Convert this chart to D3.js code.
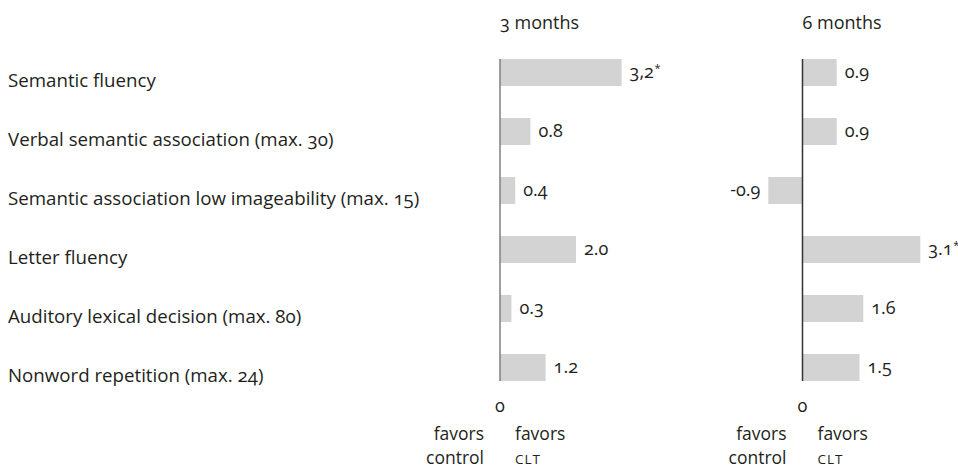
<!DOCTYPE html>
<html>
<head>
<meta charset="utf-8">
<script src="https://cdn.jsdelivr.net/npm/d3@7"></script>
<style>
  html, body { margin: 0; padding: 0; background: #fff; }
  svg { display: block; font-family: "Open Sans", sans-serif; font-variant-numeric: oldstyle-nums; fill: #231f20; }
</style>
</head>
<body>
<svg id="chart" width="958" height="468"></svg>
<script>
// Outcome measures (rows)
const categories = [
  "Semantic fluency",
  "Verbal semantic association (max. 30)",
  "Semantic association low imageability (max. 15)",
  "Letter fluency",
  "Auditory lexical decision (max. 80)",
  "Nonword repetition (max. 24)"
];

// Mean differences after 3 and 6 months
const values3 = [3.2, 0.8, 0.4, 2.0, 0.3, 1.2];
const values6 = [0.9, 0.9, -0.9, 3.1, 1.6, 1.5];

// Printed value labels ("*" marks significance)
const labels3 = ["3,2", "0.8", "0.4", "2.0", "0.3", "1.2"];
const stars3  = [true, false, false, false, false, false];
const labels6 = ["0.9", "0.9", "-0.9", "3.1", "1.6", "1.5"];
const stars6  = [false, false, false, true, false, false];

const panelTitles = ["3 months", "6 months"];
const zeroTick = "0";
const favorsLeft = ["favors", "control"];
const favorsRight = ["favors", "CLT"];

const svg = d3.select("#chart");

const y = d3.scaleBand()
  .domain(categories)
  .range([59, 381])
  .paddingInner(32 / 59)
  .paddingOuter(0);

// Row labels
svg.append("g")
  .selectAll("text")
  .data(categories)
  .join("text")
  .attr("x", 8)
  .attr("y", d => y(d) + 28)
  .attr("font-size", 18.7)
  .text(d => d);

const panels = [
  { title: panelTitles[0], values: values3, labels: labels3, stars: stars3,
    x: d3.scaleLinear().domain([0, 1]).range([500, 538]), axisColor: "#7f7f7f" },
  { title: panelTitles[1], values: values6, labels: labels6, stars: stars6,
    x: d3.scaleLinear().domain([0, 1]).range([802.5, 840.5]), axisColor: "#333" }
];

panels.forEach(p => {
  const g = svg.append("g");
  const x0 = p.x(0);

  g.append("text")
    .attr("x", x0)
    .attr("y", 29)
    .attr("font-size", 18)
    .text(p.title);

  g.selectAll("rect")
    .data(p.values)
    .join("rect")
    .attr("x", d => Math.min(p.x(d), x0))
    .attr("y", (d, i) => y(categories[i]))
    .attr("width", d => Math.abs(p.x(d) - x0))
    .attr("height", y.bandwidth())
    .attr("fill", "#d3d3d3");

  g.append("line")
    .attr("x1", x0).attr("x2", x0)
    .attr("y1", 59).attr("y2", 381)
    .attr("stroke", p.axisColor)
    .attr("stroke-width", 1.5);

  const vl = g.selectAll("text.val")
    .data(p.values)
    .join("text")
    .attr("class", "val")
    .attr("x", d => d >= 0 ? p.x(d) + 8 : p.x(d) - 8)
    .attr("y", (d, i) => y(categories[i]) + 19)
    .attr("text-anchor", d => d >= 0 ? "start" : "end")
    .attr("font-size", 18);
  vl.append("tspan").text((d, i) => p.labels[i]);
  vl.filter((d, i) => p.stars[i])
    .append("tspan")
    .attr("dx", 0.5)
    .attr("dy", -6)
    .attr("font-size", 11)
    .text("*");

  g.append("text")
    .attr("x", x0)
    .attr("y", 412)
    .attr("text-anchor", "middle")
    .attr("font-size", 18)
    .text(zeroTick);

  g.selectAll("text.fl")
    .data(favorsLeft)
    .join("text")
    .attr("class", "fl")
    .attr("x", x0 - 16)
    .attr("y", (d, i) => 440 + i * 24)
    .attr("text-anchor", "end")
    .attr("font-size", 17.5)
    .text(d => d);

  g.selectAll("text.fr")
    .data(favorsRight)
    .join("text")
    .attr("class", "fr")
    .attr("x", x0 + 15)
    .attr("y", (d, i) => 440 + i * 24)
    .attr("font-size", (d, i) => i === 0 ? 17.5 : 13.5)
    .attr("letter-spacing", (d, i) => i === 0 ? 0 : 1)
    .text(d => d);
});
</script>
</body>
</html>
